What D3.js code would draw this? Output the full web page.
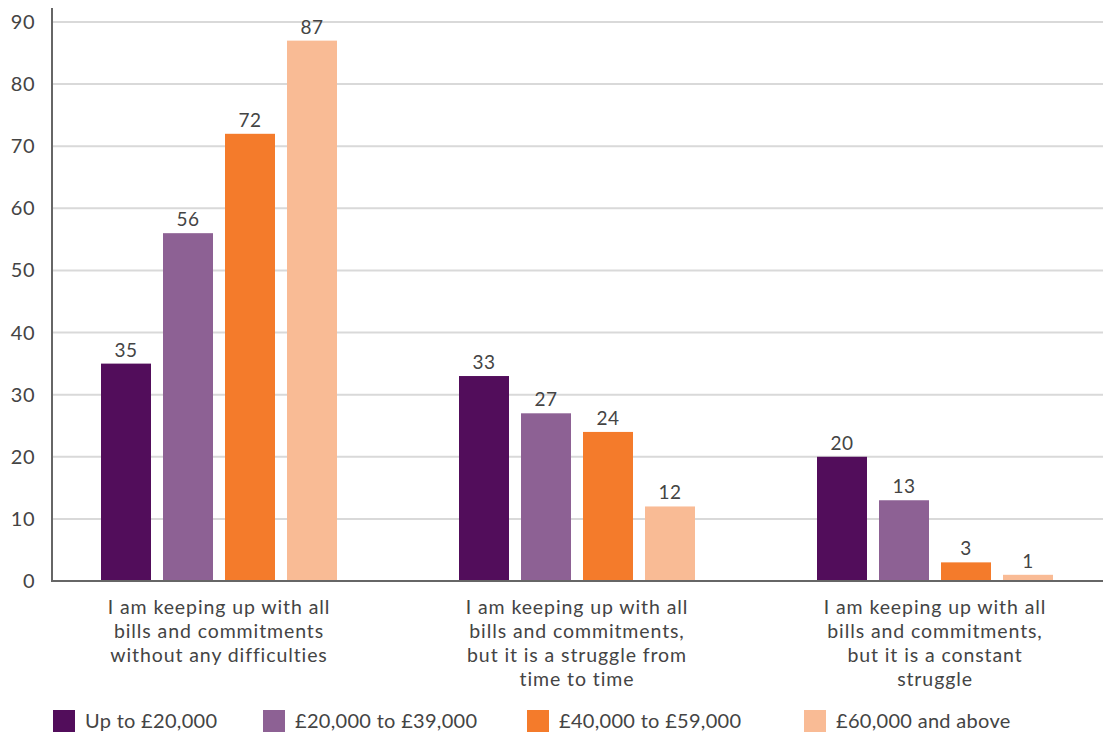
<!DOCTYPE html>
<html>
<head>
<meta charset="utf-8">
<script src="https://cdn.jsdelivr.net/npm/d3@7"></script>
<style>
  body { margin: 0; background: #fff; }
  svg { display: block; font-family: Lato, sans-serif; }
</style>
</head>
<body>
<svg id="chart"></svg>
<script>
// chart data
const categories = [
    ["I am keeping up with all", "bills and commitments", "without any difficulties"],
    ["I am keeping up with all", "bills and commitments,", "but it is a struggle from", "time to time"],
    ["I am keeping up with all", "bills and commitments,", "but it is a constant", "struggle"]
];
const seriesNames = ["Up to £20,000", "£20,000 to £39,000", "£40,000 to £59,000", "£60,000 and above"];
const seriesColors = ["#520d5b", "#8d6194", "#f47b2b", "#f9bb95"];
const values = [
    [35, 56, 72, 87],
    [33, 27, 24, 12],
    [20, 13, 3, 1]
];
const yTicks = [0, 10, 20, 30, 40, 50, 60, 70, 80, 90];

const width = 1103, height = 735;
const axisX = 52, plotRight = 1103;
const yTop = 22, yBottom = 581;

const svg = d3.select("#chart")
    .attr("width", width)
    .attr("height", height);

const y = d3.scaleLinear().domain([0, 90]).range([yBottom, yTop]);

const groupIdx = d3.range(categories.length);
const x0 = d3.scaleBand().domain(groupIdx).range([40, 1114]);
const x1 = d3.scaleBand().domain(d3.range(seriesNames.length))
    .range([0, 236]).paddingInner(12 / 62).paddingOuter(0);
const groupOffset = (x0.bandwidth() - 236) / 2;

// gridlines
svg.append("g")
    .selectAll("line")
    .data(yTicks.filter(d => d > 0))
    .join("line")
    .attr("x1", axisX)
    .attr("x2", plotRight)
    .attr("y1", d => y(d))
    .attr("y2", d => y(d))
    .attr("stroke", "#d9d9d9")
    .attr("stroke-width", 2);

// y axis labels
svg.append("g")
    .selectAll("text")
    .data(yTicks)
    .join("text")
    .attr("x", 35)
    .attr("y", d => y(d))
    .attr("dy", "0.35em")
    .attr("text-anchor", "end")
    .attr("fill", "#444")
    .style("font-size", "20px")
    .style("letter-spacing", "0.5px")
    .text(d => d);

// bars
const groups = svg.append("g")
    .selectAll("g")
    .data(groupIdx)
    .join("g")
    .attr("transform", g => `translate(${x0(g) + groupOffset},0)`);

groups.selectAll("rect")
    .data(g => values[g].map((v, i) => ({v, i})))
    .join("rect")
    .attr("x", d => x1(d.i))
    .attr("width", x1.bandwidth())
    .attr("y", d => y(d.v))
    .attr("height", d => y(0) - y(d.v))
    .attr("fill", d => seriesColors[d.i]);

groups.selectAll("text.val")
    .data(g => values[g].map((v, i) => ({v, i})))
    .join("text")
    .attr("class", "val")
    .attr("x", d => x1(d.i) + x1.bandwidth() / 2)
    .attr("y", d => y(d.v) - 7)
    .attr("text-anchor", "middle")
    .attr("fill", "#444")
    .style("font-size", "19px")
    .style("letter-spacing", "0.5px")
    .text(d => d.v);

// axes lines
svg.append("line")
    .attr("x1", axisX).attr("x2", axisX)
    .attr("y1", 8).attr("y2", yBottom + 1)
    .attr("stroke", "#666").attr("stroke-width", 2);
svg.append("line")
    .attr("x1", axisX - 1).attr("x2", plotRight)
    .attr("y1", yBottom).attr("y2", yBottom)
    .attr("stroke", "#666").attr("stroke-width", 2);

// category labels
svg.append("g")
    .selectAll("text")
    .data(groupIdx)
    .join("text")
    .attr("x", g => x0(g) + x0.bandwidth() / 2)
    .attr("y", 607)
    .attr("text-anchor", "middle")
    .attr("fill", "#444")
    .style("font-size", "19.5px")
    .style("letter-spacing", "0.9px")
    .each(function(g) {
        d3.select(this).selectAll("tspan")
            .data(categories[g])
            .join("tspan")
            .attr("x", x0(g) + x0.bandwidth() / 2)
            .attr("dy", (d, i) => i === 0 ? "0.35em" : "24px")
            .text(d => d);
    });

// legend
const legendX = [53, 263, 527, 804];
const legend = svg.append("g")
    .selectAll("g")
    .data(seriesNames)
    .join("g")
    .attr("transform", (d, i) => `translate(${legendX[i]},710)`);
legend.append("rect")
    .attr("width", 22).attr("height", 22)
    .attr("fill", (d, i) => seriesColors[i]);
legend.append("text")
    .attr("x", 32)
    .attr("y", 11)
    .attr("dy", "0.35em")
    .attr("fill", "#444")
    .style("font-size", "20px")
    .style("letter-spacing", "0.3px")
    .text(d => d);
</script>
</body>
</html>
